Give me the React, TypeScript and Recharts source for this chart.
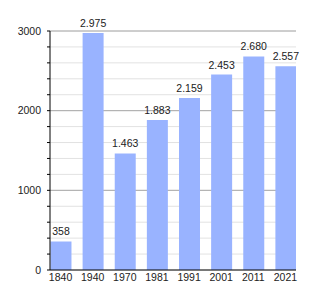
import { BarChart, Bar, XAxis, YAxis, CartesianGrid, LabelList } from "recharts";

const years = ["1840", "1940", "1970", "1981", "1991", "2001", "2011", "2021"];
const population = [358, 2975, 1463, 1883, 2159, 2453, 2680, 2557];
const minorTicks = [0, 200, 400, 600, 800, 1000, 1200, 1400, 1600, 1800, 2000, 2200, 2400, 2600, 2800, 3000];
const majorTicks = [1000, 2000, 3000];

const FONT = "'Liberation Sans', Arial, sans-serif";

const data = population.map((v, i) => ({ i, year: years[i], value: v }));

// thousands with a dot, as in the source
const fmt = (v: number) => (v >= 1000 ? `${Math.floor(v / 1000)}.${String(v % 1000).padStart(3, "0")}` : String(v));

function YTick(props: any) {
  const { x, y, payload } = props;
  const major = payload.value % 1000 === 0;
  return (
    <g>
      <line x1={x - 3} x2={x} y1={y} y2={y} stroke="#000" />
      {major && (
        <text x={x - 9} y={y} dy="0.35em" textAnchor="end" fontSize={10.5} fontFamily={FONT} fill="#222">
          {payload.value}
        </text>
      )}
    </g>
  );
}

export default function App() {
  return (
    <BarChart width={317} height={292} data={data} margin={{ top: 23, right: 29, bottom: 0, left: 0 }}>
      <CartesianGrid vertical={false} horizontalValues={minorTicks} stroke="#e2e2e2" />
      <CartesianGrid vertical={false} horizontalValues={majorTicks} stroke="#aaaaaa" />
      <XAxis
        dataKey="i"
        type="number"
        domain={[-0.328, 7.328]}
        ticks={[0, 1, 2, 3, 4, 5, 6, 7]}
        allowDataOverflow
        tickFormatter={(v: number) => years[v]}
        tickLine={false}
        tickSize={0}
        tickMargin={4}
        height={30}
        axisLine={{ stroke: "#000" }}
        tick={{ fontSize: 10.5, fontFamily: FONT, fill: "#222" }}
      />
      <YAxis
        width={42}
        domain={[0, 3000]}
        ticks={minorTicks}
        interval={0}
        tickLine={false}
        tickSize={0}
        tickMargin={0}
        axisLine={{ stroke: "#000" }}
        tick={<YTick />}
      />
      <Bar dataKey="value" fill="#99b3ff" barSize={21} isAnimationActive={false}>
        <LabelList
          dataKey="value"
          position="top"
          offset={6}
          formatter={(v: any) => fmt(Number(v))}
          style={{ fontSize: 10.5, fontFamily: FONT, fill: "#222" }}
        />
      </Bar>
    </BarChart>
  );
}
